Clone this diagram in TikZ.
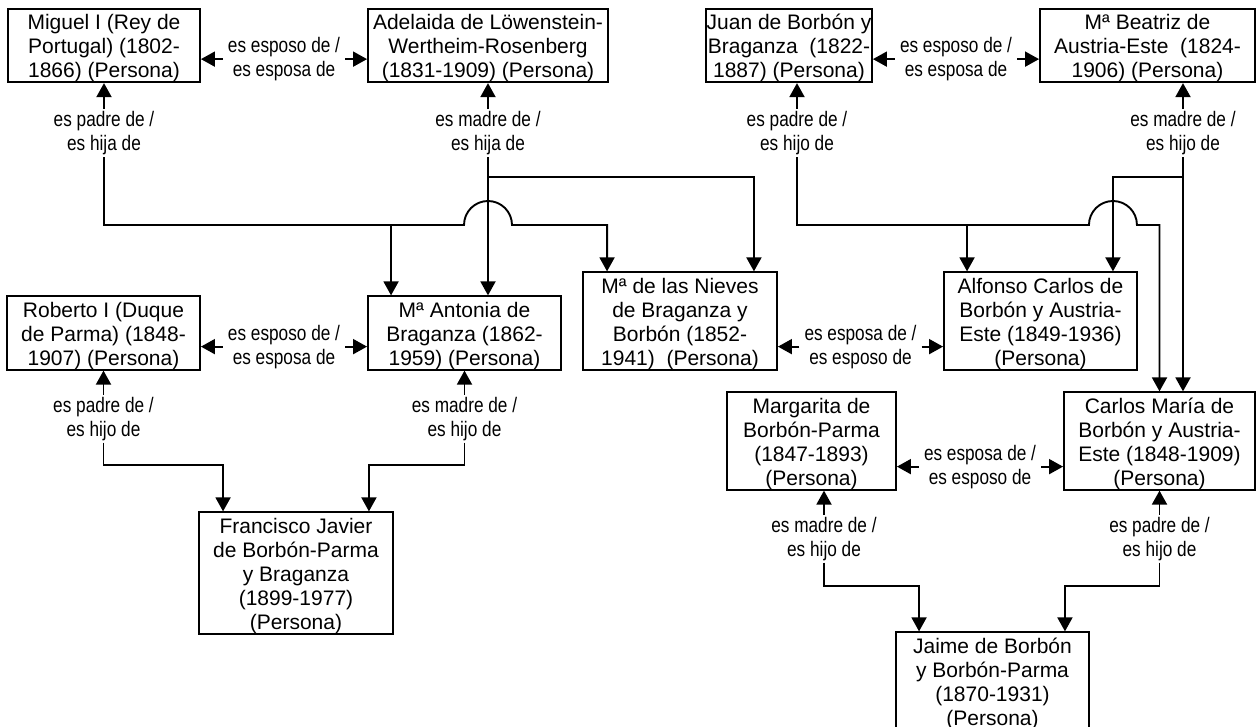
\documentclass[tikz,border=0pt]{standalone}
\usepackage{fontspec}
\setmainfont{Liberation Sans}
\newfontfamily\narrowfont[FakeStretch=0.82]{Liberation Sans}
\usetikzlibrary{arrows.meta,positioning,calc}
\newcommand{\boxstrut}{\rule{0pt}{21pt}}
\tikzset{
    persona/.style = {rectangle, draw=black, line width=1.9pt, align=center, inner xsep=0pt, inner ysep=0pt,
                      font=\fontsize{21}{24}\selectfont},
    rel/.style     = {align=center, inner xsep=5pt, inner ysep=2pt, font=\narrowfont\fontsize{21}{24}\selectfont},
    arr/.style     = {-{Triangle[width=15pt,length=14pt]}, line width=1.9pt}
}

\begin{document}
\begin{tikzpicture}[x=1pt, y=-1pt]
        \useasboundingbox (0,0) rectangle (1256,727);
        \fill[white] (0,0) rectangle (1256,727);

        % Persons
        \node[persona, minimum width=192pt] (miguel)    at (104,45.5)   {\boxstrut Miguel I (Rey de\\Portugal) (1802-\\1866) (Persona)};
        \node[persona, minimum width=240pt] (adelaida)  at (488,45.5)   {\boxstrut Adelaida de Löwenstein-\\Wertheim-Rosenberg\\(1831-1909) (Persona)};
        \node[persona, minimum width=166pt] (juan)      at (789,45.5)   {\boxstrut Juan de Borbón y\\Braganza\ \ (1822-\\1887) (Persona)};
        \node[persona, minimum width=215pt] (beatriz)   at (1147.5,45.5) {\boxstrut Mª Beatriz de\\Austria-Este\ \ (1824-\\1906) (Persona)};
        \node[persona, minimum width=193pt] (roberto)   at (103.5,333)  {\boxstrut Roberto I (Duque\\de Parma) (1848-\\1907) (Persona)};
        \node[persona, minimum width=193pt] (antonia)   at (464.5,333)  {\boxstrut Mª Antonia de\\Braganza (1862-\\1959) (Persona)};
        \node[persona, minimum width=194pt] (nieves)    at (680,321)    {\boxstrut Mª de las Nieves\\de Braganza y\\Borbón (1852-\\1941)\ \ (Persona)};
        \node[persona, minimum width=193pt] (alfonso)   at (1040.5,321) {\boxstrut Alfonso Carlos de\\Borbón y Austria-\\Este (1849-1936)\\(Persona)};
        \node[persona, minimum width=169pt] (margarita) at (811.5,441)  {\boxstrut Margarita de\\Borbón-Parma\\(1847-1893)\\(Persona)};
        \node[persona, minimum width=191pt] (carlos)    at (1159.5,441) {\boxstrut Carlos María de\\Borbón y Austria-\\Este (1848-1909)\\(Persona)};
        \node[persona, minimum width=194pt] (francisco) at (296,573)    {\boxstrut Francisco Javier\\de Borbón-Parma\\y Braganza\\(1899-1977)\\(Persona)};
        \node[persona, minimum width=193pt] (jaime)     at (992.5,681)  {\boxstrut Jaime de Borbón\\y Borbón-Parma\\(1870-1931)\\(Persona)};

        % Spouse links
        \node[rel] (sp-ma) at ($(miguel.south east)!0.5!(adelaida.south west)+(0,-24)$)  {es esposo de /\\es esposa de};
        \node[rel] (sp-jb) at ($(juan.south east)!0.5!(beatriz.south west)+(0,-24)$)     {es esposo de /\\es esposa de};
        \node[rel] (sp-ra) at ($(roberto.south east)!0.5!(antonia.south west)+(0,-24)$)  {es esposo de /\\es esposa de};
        \node[rel] (sp-na) at ($(nieves.south east)!0.5!(alfonso.south west)+(0,-24)$)   {es esposa de /\\es esposo de};
        \node[rel] (sp-mc) at ($(margarita.south east)!0.5!(carlos.south west)+(0,-24)$) {es esposa de /\\es esposo de};

        \draw[arr] (sp-ma.west) -- (sp-ma.west -| miguel.east);
        \draw[arr] (sp-ma.east) -- (sp-ma.east -| adelaida.west);
        \draw[arr] (sp-jb.west) -- (sp-jb.west -| juan.east);
        \draw[arr] (sp-jb.east) -- (sp-jb.east -| beatriz.west);
        \draw[arr] (sp-ra.west) -- (sp-ra.west -| roberto.east);
        \draw[arr] (sp-ra.east) -- (sp-ra.east -| antonia.west);
        \draw[arr] (sp-na.west) -- (sp-na.west -| nieves.east);
        \draw[arr] (sp-na.east) -- (sp-na.east -| alfonso.west);
        \draw[arr] (sp-mc.west) -- (sp-mc.west -| margarita.east);
        \draw[arr] (sp-mc.east) -- (sp-mc.east -| carlos.west);

        % Parent labels
        \node[rel, below=26pt of miguel]                   (lbl-miguel)    {es padre de /\\es hija de};
        \node[rel, below=26pt of adelaida]                 (lbl-adelaida)  {es madre de /\\es hija de};
        \node[rel, below=26pt of juan, xshift=8pt]         (lbl-juan)      {es padre de /\\es hijo de};
        \node[rel, below=26pt of beatriz, xshift=35.5pt]   (lbl-beatriz)   {es madre de /\\es hijo de};
        \node[rel, below=24pt of roberto]                  (lbl-roberto)   {es padre de /\\es hijo de};
        \node[rel, below=24pt of antonia]                  (lbl-antonia)   {es madre de /\\es hijo de};
        \node[rel, below=24pt of margarita, xshift=12.5pt] (lbl-margarita) {es madre de /\\es hijo de};
        \node[rel, below=24pt of carlos]                   (lbl-carlos)    {es padre de /\\es hijo de};

        \draw[arr] (lbl-miguel.north) -- (lbl-miguel.north |- miguel.south);
        \draw[arr] (lbl-adelaida.north) -- (lbl-adelaida.north |- adelaida.south);
        \draw[arr] (lbl-juan.north) -- (lbl-juan.north |- juan.south);
        \draw[arr] (lbl-beatriz.north) -- (lbl-beatriz.north |- beatriz.south);
        \draw[arr] (lbl-roberto.north) -- (lbl-roberto.north |- roberto.south);
        \draw[arr] (lbl-antonia.north) -- (lbl-antonia.north |- antonia.south);
        \draw[arr] (lbl-margarita.north) -- (lbl-margarita.north |- margarita.south);
        \draw[arr] (lbl-carlos.north) -- (lbl-carlos.north |- carlos.south);

        % Rails and entry points
        \coordinate (railA) at (0,225);
        \coordinate (railB) at (0,177);
        \coordinate (railC) at (0,465);
        \coordinate (railD) at (0,586);
        \coordinate (antonia-m)   at ([xshift=24pt]antonia.north west);
        \coordinate (nieves-m)    at ([xshift=25pt]nieves.north west);
        \coordinate (nieves-a)    at ([xshift=-24pt]nieves.north east);
        \coordinate (alfonso-j)   at ([xshift=24pt]alfonso.north west);
        \coordinate (alfonso-b)   at ([xshift=-25pt]alfonso.north east);
        \coordinate (francisco-r) at ([xshift=25pt]francisco.north west);
        \coordinate (francisco-a) at ([xshift=-25pt]francisco.north east);
        \coordinate (jaime-m)     at ([xshift=24pt]jaime.north west);
        \coordinate (jaime-c)     at ([xshift=-25pt]jaime.north east);

        % Children of Miguel and Adelaida
        \draw[arr] (lbl-miguel.south) |- ($(lbl-adelaida.south |- railA)+(-24,0)$)
            arc[start angle=180, end angle=0, radius=24pt] -| (nieves-m);
        \draw[arr] (antonia-m |- railA) -- (antonia-m);
        \draw[arr] (lbl-adelaida.south) -- (lbl-adelaida.south |- antonia.north);
        \draw[arr] (lbl-adelaida.south |- railB) -| (nieves-a);

        % Children of Juan and Beatriz
        \draw[arr] (lbl-juan.south) |- ($(alfonso-b |- railA)+(-24,0)$)
            arc[start angle=180, end angle=0, radius=24pt] -| (carlos.north);
        \draw[arr] (alfonso-j |- railA) -- (alfonso-j);
        \draw[arr] (lbl-beatriz.south) -- (lbl-beatriz.south |- carlos.north);
        \draw[arr] (lbl-beatriz.south |- railB) -| (alfonso-b);

        % Francisco Javier
        \draw[arr] (lbl-roberto.south) -- (lbl-roberto.south |- railC) -| (francisco-r);
        \draw[arr] (lbl-antonia.south) -- (lbl-antonia.south |- railC) -| (francisco-a);

        % Jaime
        \draw[arr] (lbl-margarita.south) -- (lbl-margarita.south |- railD) -| (jaime-m);
        \draw[arr] (lbl-carlos.south) -- (lbl-carlos.south |- railD) -| (jaime-c);

\end{tikzpicture}
\end{document}
